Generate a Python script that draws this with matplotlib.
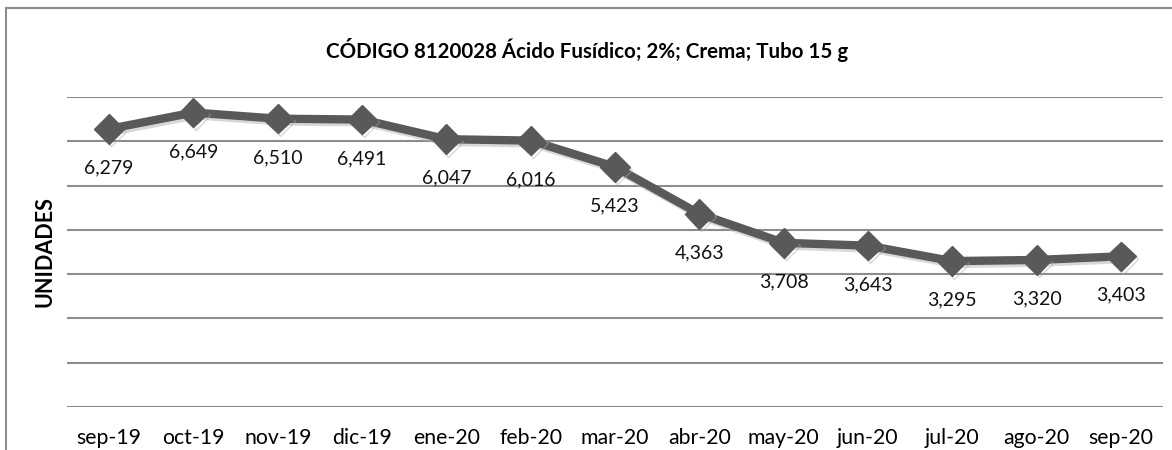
import matplotlib.pyplot as plt
import matplotlib.patheffects as pe
from matplotlib.patches import Rectangle

plt.rcParams['font.family'] = ['Lato', 'DejaVu Sans']

months = ['sep-19', 'oct-19', 'nov-19', 'dic-19', 'ene-20', 'feb-20', 'mar-20',
          'abr-20', 'may-20', 'jun-20', 'jul-20', 'ago-20', 'sep-20']
unidades = [6279, 6649, 6510, 6491, 6047, 6016, 5423,
            4363, 3708, 3643, 3295, 3320, 3403]
titulo = 'CÓDIGO 8120028 Ácido Fusídico; 2%; Crema; Tubo 15 g'

fig = plt.figure(figsize=(11.72, 4.5), dpi=100)
ax = fig.add_axes([67/1172, 1-407/450, (1163-67)/1172, (407-97)/450])

x = range(len(months))
ax.plot(x, unidades, color='#595959', lw=6, marker='D', ms=15,
        solid_joinstyle='round',
        path_effects=[pe.SimpleLineShadow(offset=(1.5, -2), shadow_color='#aaaaaa', alpha=0.45),
                      pe.Normal()])

for i, v in enumerate(unidades):
    ax.annotate(f'{v:,}', (i, v), xytext=(0, -28), textcoords='offset points',
                ha='center', va='center', fontsize=14, color='#111111')

ax.set_xlim(-0.5, len(months) - 0.5)
ax.set_ylim(0, 7000)
ax.set_yticks(range(0, 7001, 1000))
ax.set_yticklabels([])
ax.yaxis.grid(True, color='#8c8c8c', lw=1.5)
ax.set_axisbelow(True)
ax.tick_params(length=0)
ax.set_xticks(list(x))
ax.set_xticklabels(months, fontsize=15.3)
ax.tick_params(axis='x', pad=15)
for s in ax.spines.values():
    s.set_visible(False)

ax.set_ylabel('UNIDADES', fontsize=15.5, fontweight='bold', labelpad=5)
fig.text(587/1172, 1-50/450, titulo, ha='center', va='center',
         fontsize=14.8, fontweight='bold')

# outer chart border
fig.patches.append(Rectangle((6/1172, -0.1), 1.2, 1-8/450+0.1, transform=fig.transFigure,
                             fill=False, edgecolor='#8c8c8c', lw=1.5))

fig.savefig('out.png', dpi=100)
